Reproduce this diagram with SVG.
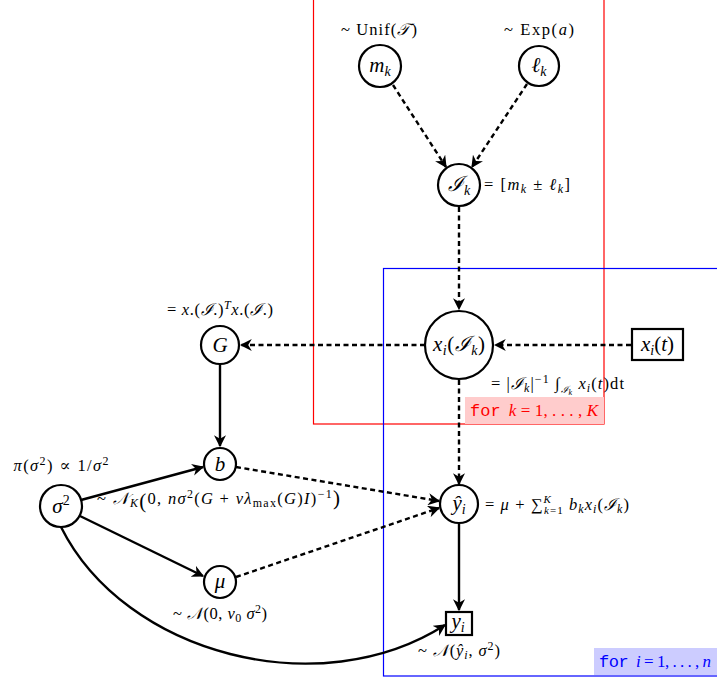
<svg xmlns="http://www.w3.org/2000/svg" width="717" height="679" viewBox="0 0 717 679">
<style>
text{font-family:"Liberation Serif","DejaVu Serif",serif;fill:#000}
.lbl{font-size:16.5px}
.nd{font-size:21px;font-style:italic}
.it{font-style:italic}
.n{fill:#fff;stroke:#000;stroke-width:2.2}
.e{fill:none;stroke:#000;stroke-width:2.4}
.d{stroke-dasharray:5 3.5}
.mono{font-family:"Liberation Mono","DejaVu Sans Mono",monospace}
</style>
<defs>
<marker id="ah" viewBox="0 0 10 10" refX="9" refY="5" markerWidth="5" markerHeight="5" orient="auto" markerUnits="strokeWidth">
<path d="M0,0 L10,5 L0,10 L3,5 Z" fill="#000"/>
</marker>
</defs>

<!-- plates -->
<g id="plate-k">
<rect x="313.5" y="-1" width="290.5" height="425" fill="none" stroke="#ff0000" stroke-width="1.2"/>
<rect x="465" y="397" width="139" height="27" fill="#ffcccc"/>
<text x="470" y="416" font-size="17" textLength="128" lengthAdjust="spacing" style="fill:#ff0000"><tspan class="mono" style="fill:#ff0000">for</tspan><tspan class="it" style="fill:#ff0000" dx="8">k</tspan><tspan style="fill:#ff0000"> = 1, . . . , </tspan><tspan class="it" style="fill:#ff0000">K</tspan></text>
</g>
<g id="plate-i">
<rect x="383.5" y="268.5" width="340" height="407.5" fill="none" stroke="#0000ff" stroke-width="1.2"/>
<rect x="594" y="648" width="123" height="27" fill="#ccccff"/>
<text x="599" y="667" font-size="17" textLength="112" lengthAdjust="spacing" style="fill:#0000ff"><tspan class="mono" style="fill:#0000ff">for</tspan><tspan class="it" style="fill:#0000ff" dx="8">i</tspan><tspan style="fill:#0000ff"> = 1, . . . , </tspan><tspan class="it" style="fill:#0000ff">n</tspan></text>
</g>

<!-- connectors -->
<g id="connectors">
<line class="e d" x1="393" y1="85" x2="446" y2="167" marker-end="url(#ah)"/>
<line class="e d" x1="527" y1="84" x2="472" y2="167" marker-end="url(#ah)"/>
<line class="e d" x1="459" y1="207" x2="459" y2="309" marker-end="url(#ah)"/>
<line class="e d" x1="631" y1="345" x2="495" y2="345" marker-end="url(#ah)"/>
<line class="e d" x1="425" y1="345" x2="241" y2="345" marker-end="url(#ah)"/>
<line class="e" x1="220" y1="364" x2="220" y2="446" marker-end="url(#ah)"/>
<line class="e" x1="81" y1="500" x2="203" y2="467" marker-end="url(#ah)"/>
<line class="e" x1="80" y1="516" x2="203" y2="576" marker-end="url(#ah)"/>
<path class="e" d="M61,527 C125,655 320,705 445,625" marker-end="url(#ah)"/>
<line class="e d" x1="236" y1="467" x2="439" y2="501" marker-end="url(#ah)"/>
<line class="e d" x1="236" y1="577" x2="439" y2="508" marker-end="url(#ah)"/>
<line class="e d" x1="459" y1="380" x2="459" y2="484" marker-end="url(#ah)"/>
<line class="e" x1="459" y1="524" x2="459" y2="610" marker-end="url(#ah)"/>
</g>

<!-- nodes -->
<g id="node-mk">
<circle class="n" cx="380" cy="66" r="21"/>
<text class="nd" x="380" y="72" text-anchor="middle">m<tspan font-size="14" dy="4">k</tspan></text>
<text class="lbl" x="379" y="35" text-anchor="middle" textLength="76" lengthAdjust="spacing">~ Unif(<tspan class="it">𝒯</tspan>)</text>
</g>
<g id="node-lk">
<circle class="n" cx="539" cy="66" r="20"/>
<text class="nd" x="539" y="72" text-anchor="middle">ℓ<tspan font-size="14" dy="4">k</tspan></text>
<text class="lbl" x="539" y="35" text-anchor="middle" textLength="70" lengthAdjust="spacing">~ Exp(<tspan class="it">a</tspan>)</text>
</g>
<g id="node-Ik">
<circle class="n" cx="459" cy="185" r="21"/>
<text class="nd" x="459" y="191" text-anchor="middle">ℐ<tspan font-size="14" dy="4">k</tspan></text>
<text class="lbl" x="484" y="190" textLength="86" lengthAdjust="spacing">= [<tspan class="it">m</tspan><tspan class="it" font-size="12" dy="3">k</tspan><tspan dy="-3"> ± </tspan><tspan class="it">ℓ</tspan><tspan class="it" font-size="12" dy="3">k</tspan><tspan dy="-3">]</tspan></text>
</g>
<g id="node-xiIk">
<circle class="n" cx="459" cy="345" r="34"/>
<text class="nd" x="459" y="351" text-anchor="middle" textLength="52" lengthAdjust="spacing">x<tspan font-size="14" dy="4">i</tspan><tspan font-style="normal" dy="-4">(</tspan>ℐ<tspan font-size="14" dy="4">k</tspan><tspan font-style="normal" dy="-4">)</tspan></text>
<text class="lbl" x="491" y="389" textLength="133" lengthAdjust="spacing">= |<tspan class="it">ℐ</tspan><tspan class="it" font-size="12" dy="3">k</tspan><tspan dy="-3">|</tspan><tspan font-size="12" dy="-6">−1</tspan><tspan dy="6"> ∫</tspan><tspan class="it" font-size="10" dy="4">ℐ</tspan><tspan class="it" font-size="8" dy="2">k</tspan><tspan class="it" dy="-6"> x</tspan><tspan class="it" font-size="12" dy="3">i</tspan><tspan dy="-3">(</tspan><tspan class="it">t</tspan>)d<tspan>t</tspan></text>
</g>
<g id="node-xit">
<rect class="n" x="632" y="329" width="51" height="31"/>
<text class="nd" x="657.5" y="351" text-anchor="middle">x<tspan font-size="14" dy="4">i</tspan><tspan font-style="normal" dy="-4">(</tspan>t<tspan font-style="normal">)</tspan></text>
</g>
<g id="node-G">
<circle class="n" cx="220" cy="345" r="19"/>
<text class="nd" x="220" y="352" text-anchor="middle">G</text>
<text class="lbl" x="220" y="315" text-anchor="middle" textLength="106" lengthAdjust="spacing">= <tspan class="it">x</tspan>.(<tspan class="it">ℐ</tspan>.)<tspan class="it" font-size="12" dy="-6">T</tspan><tspan class="it" dy="6">x</tspan>.(<tspan class="it">ℐ</tspan>.)</text>
</g>
<g id="node-b">
<circle class="n" cx="220" cy="464" r="16"/>
<text class="nd" x="220" y="471" text-anchor="middle">b</text>
</g>
<g id="node-sigma2">
<circle class="n" cx="61" cy="506" r="21"/>
<text class="nd" x="61" y="513" text-anchor="middle">σ<tspan font-style="normal" font-size="14" dy="-8">2</tspan></text>
<text class="lbl" x="61" y="471" text-anchor="middle" textLength="95" lengthAdjust="spacing"><tspan class="it">π</tspan>(<tspan class="it">σ</tspan><tspan font-size="12" dy="-6">2</tspan><tspan dy="6">) ∝ 1/</tspan><tspan class="it">σ</tspan><tspan font-size="12" dy="-6">2</tspan></text>
<text class="lbl" x="97" y="504" textLength="243" lengthAdjust="spacing">~ <tspan class="it">𝒩</tspan><tspan class="it" font-size="12" dy="3">K</tspan><tspan font-size="21" dy="1">(</tspan><tspan dy="-4">0,  </tspan><tspan class="it">nσ</tspan><tspan font-size="12" dy="-6">2</tspan><tspan dy="6">(</tspan><tspan class="it">G</tspan> + <tspan class="it">vλ</tspan><tspan font-size="12" dy="3">max</tspan><tspan dy="-3">(</tspan><tspan class="it">G</tspan>)<tspan class="it">I</tspan>)<tspan font-size="12" dy="-6">−1</tspan><tspan font-size="21" dy="7">)</tspan></text>
</g>
<g id="node-mu">
<circle class="n" cx="220" cy="582" r="16"/>
<text class="nd" x="220" y="588" text-anchor="middle">μ</text>
<text class="lbl" x="220" y="619" text-anchor="middle" textLength="94" lengthAdjust="spacing">~ <tspan class="it">𝒩</tspan>(0, <tspan class="it">v</tspan><tspan font-size="12" dy="3">0</tspan><tspan dy="-3"> </tspan><tspan class="it">σ</tspan><tspan font-size="12" dy="-6">2</tspan><tspan dy="6">)</tspan></text>
</g>
<g id="node-yhat">
<circle class="n" cx="459" cy="504" r="19"/>
<text class="nd" x="459" y="510" text-anchor="middle">ŷ<tspan font-size="14" dy="4">i</tspan></text>
<text class="lbl" x="485" y="510" textLength="144" lengthAdjust="spacing">= <tspan class="it">μ</tspan> + ∑<tspan class="it" font-size="11" dy="-7">K</tspan><tspan font-size="11" dx="-8" dy="11"><tspan class="it">k</tspan>=1</tspan><tspan class="it" dy="-4"> b</tspan><tspan class="it" font-size="12" dy="3">k</tspan><tspan class="it" dy="-3">x</tspan><tspan class="it" font-size="12" dy="3">i</tspan><tspan dy="-3">(</tspan><tspan class="it">ℐ</tspan><tspan class="it" font-size="12" dy="3">k</tspan><tspan dy="-3">)</tspan></text>
</g>
<g id="node-yi">
<rect class="n" x="446" y="612" width="26" height="23"/>
<text class="nd" x="458" y="628" text-anchor="middle">y<tspan font-size="14" dy="4">i</tspan></text>
<text class="lbl" x="459" y="656" text-anchor="middle" textLength="82" lengthAdjust="spacing">~ <tspan class="it">𝒩</tspan>(<tspan class="it">ŷ</tspan><tspan class="it" font-size="12" dy="3">i</tspan><tspan dy="-3">, </tspan><tspan class="it">σ</tspan><tspan font-size="12" dy="-6">2</tspan><tspan dy="6">)</tspan></text>
</g>
</svg>
